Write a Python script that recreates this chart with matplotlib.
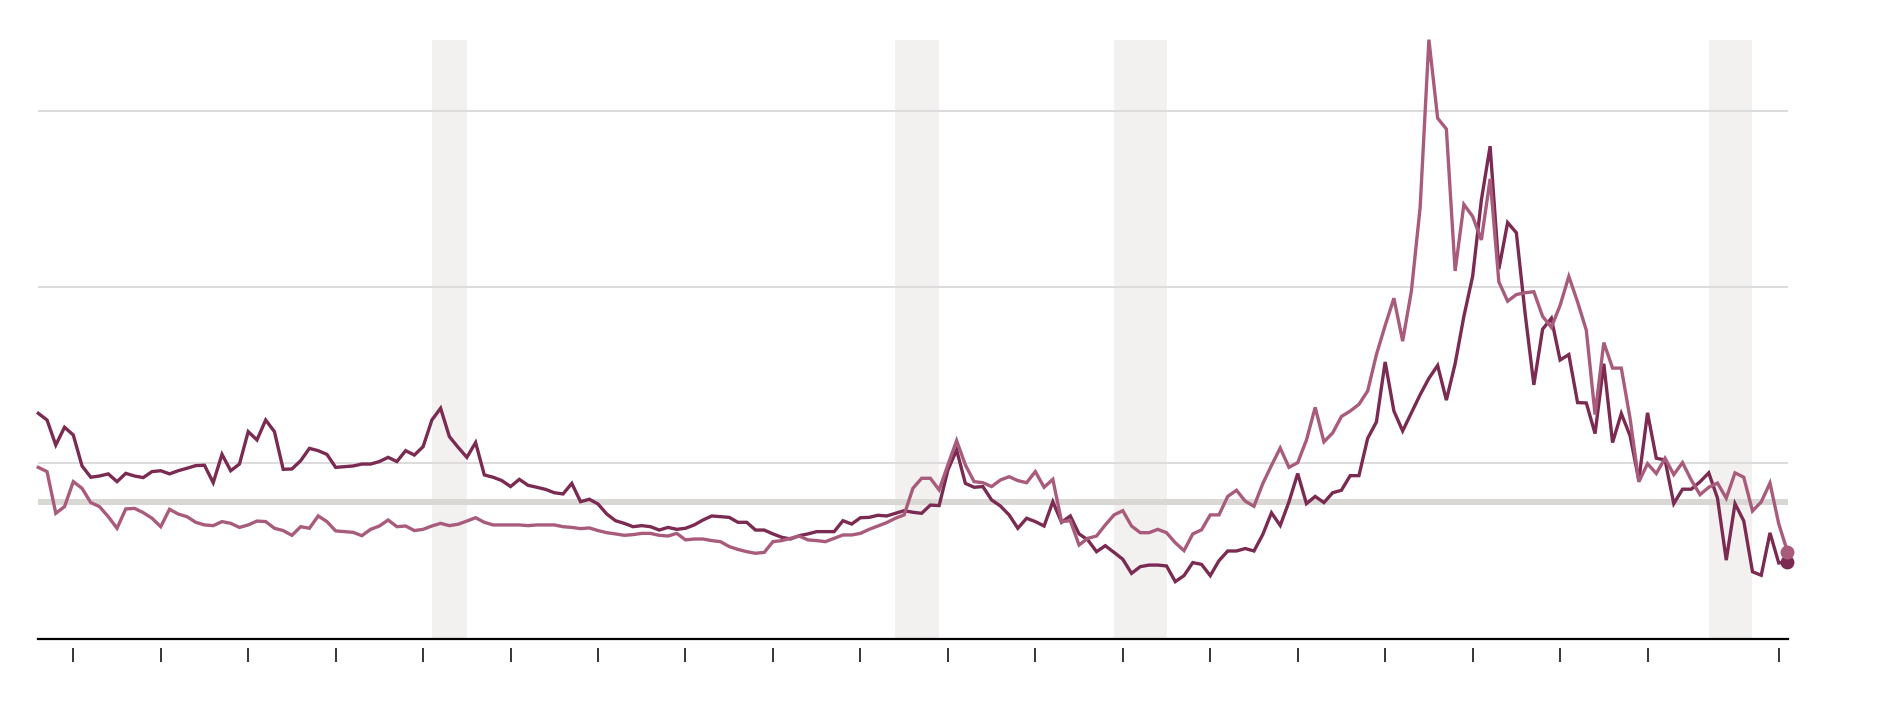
import numpy as np
import matplotlib
matplotlib.use("Agg")
import matplotlib.pyplot as plt

years = list(range(1816, 2017))

dark_series = [
    1.282, 1.244, 1.102, 1.203, 1.159, 0.983, 0.919, 0.926, 0.938, 0.894,
    0.941, 0.926, 0.917, 0.951, 0.956, 0.938, 0.956, 0.970, 0.985, 0.987,
    0.888, 1.049, 0.956, 0.994, 1.178, 1.131, 1.244, 1.178, 0.964, 0.966,
    1.013, 1.083, 1.070, 1.049, 0.975, 0.979, 0.983, 0.994, 0.994, 1.008,
    1.032, 1.008, 1.070, 1.045, 1.093, 1.244, 1.311, 1.150, 1.089, 1.032,
    1.116, 0.932, 0.919, 0.900, 0.866, 0.907, 0.873, 0.862, 0.850, 0.831,
    0.824, 0.884, 0.780, 0.794, 0.767, 0.710, 0.672, 0.657, 0.638, 0.644,
    0.638, 0.619, 0.634, 0.623, 0.629, 0.648, 0.676, 0.699, 0.695, 0.691,
    0.663, 0.663, 0.619, 0.619, 0.597, 0.578, 0.568, 0.587, 0.597, 0.610,
    0.610, 0.610, 0.672, 0.653, 0.689, 0.691, 0.703, 0.699, 0.714, 0.729,
    0.720, 0.714, 0.761, 0.758, 0.960, 1.074, 0.884, 0.862, 0.866, 0.790,
    0.756, 0.705, 0.629, 0.686, 0.667, 0.642, 0.780, 0.663, 0.699, 0.597,
    0.563, 0.496, 0.530, 0.492, 0.453, 0.373, 0.411, 0.420, 0.420, 0.415,
    0.326, 0.360, 0.434, 0.424, 0.360, 0.445, 0.500, 0.500, 0.514, 0.500,
    0.593, 0.717, 0.645, 0.779, 0.940, 0.769, 0.810, 0.775, 0.831, 0.845,
    0.928, 0.928, 1.140, 1.233, 1.574, 1.295, 1.182, 1.285, 1.388, 1.481,
    1.554, 1.357, 1.564, 1.833, 2.060, 2.494, 2.800, 2.101, 2.366, 2.308,
    1.850, 1.444, 1.760, 1.822, 1.585, 1.616, 1.343, 1.341, 1.167, 1.564,
    1.116, 1.281, 1.155, 0.903, 1.285, 1.027, 1.017, 0.769, 0.851, 0.851,
    0.893, 0.944, 0.800, 0.448, 0.769, 0.671, 0.382, 0.362, 0.603, 0.432,
    0.440,
]

light_series = [
    0.975, 0.951, 0.714, 0.752, 0.894, 0.856, 0.775, 0.752, 0.695, 0.629,
    0.739, 0.742, 0.718, 0.686, 0.638, 0.737, 0.710, 0.695, 0.663, 0.648,
    0.644, 0.667, 0.657, 0.634, 0.648, 0.670, 0.667, 0.629, 0.616, 0.589,
    0.638, 0.629, 0.699, 0.667, 0.614, 0.610, 0.606, 0.587, 0.623, 0.642,
    0.676, 0.638, 0.642, 0.616, 0.623, 0.642, 0.657, 0.644, 0.652, 0.670,
    0.689, 0.663, 0.648, 0.648, 0.648, 0.648, 0.644, 0.648, 0.648, 0.648,
    0.638, 0.634, 0.627, 0.631, 0.616, 0.604, 0.597, 0.589, 0.593, 0.600,
    0.600, 0.589, 0.585, 0.600, 0.563, 0.568, 0.568, 0.559, 0.553, 0.525,
    0.509, 0.496, 0.487, 0.492, 0.553, 0.559, 0.572, 0.585, 0.563, 0.559,
    0.553, 0.572, 0.591, 0.591, 0.600, 0.623, 0.642, 0.661, 0.686, 0.705,
    0.856, 0.913, 0.913, 0.847, 0.989, 1.127, 0.989, 0.894, 0.888, 0.866,
    0.903, 0.922, 0.900, 0.888, 0.951, 0.862, 0.907, 0.667, 0.672, 0.534,
    0.572, 0.585, 0.648, 0.705, 0.729, 0.642, 0.604, 0.604, 0.623, 0.604,
    0.547, 0.502, 0.597, 0.620, 0.705, 0.705, 0.810, 0.845, 0.783, 0.754,
    0.882, 0.986, 1.085, 0.975, 1.002, 1.130, 1.316, 1.120, 1.171, 1.264,
    1.295, 1.333, 1.409, 1.616, 1.781, 1.936, 1.692, 1.977, 2.452, 3.405,
    2.959, 2.897, 2.091, 2.469, 2.401, 2.267, 2.614, 2.029, 1.919, 1.957,
    1.967, 1.973, 1.833, 1.771, 1.895, 2.060, 1.915, 1.754, 1.275, 1.684,
    1.539, 1.539, 1.254, 0.893, 0.996, 0.940, 1.027, 0.934, 1.002, 0.903,
    0.820, 0.862, 0.886, 0.800, 0.944, 0.919, 0.727, 0.779, 0.886, 0.655,
    0.496,
]

shaded_periods = [(1861, 1865), (1914, 1919), (1939, 1945), (2007, 2012)]
gridline_values = [1, 2, 3]
reference_value = 0.78
tick_years = list(range(1820, 2001, 10)) + [2015]

DARK = "#7b2a52"
LIGHT = "#a85b7b"

fig = plt.figure(figsize=(18.9, 7.2), dpi=100)
ax = fig.add_axes([38.3 / 1890, 1 - 639 / 720, (1788 - 38.3) / 1890, (639 - 40) / 720])
ax.set_xlim(1816, 2016.06)
ax.set_ylim(0, 3.403)

for a, b in shaded_periods:
    ax.axvspan(a, b, color="#f2f1f0", lw=0, zorder=0)
for g in gridline_values:
    ax.axhline(g, color="#dcdcdc", lw=1.4, zorder=1)
ax.axhline(reference_value, color="#d9d8d5", lw=4.3, zorder=1)
ax.axhline(0, color="black", lw=1.6, zorder=3, clip_on=False)

ax.plot(years, dark_series, color=DARK, lw=2.4, zorder=4, clip_on=False,
        solid_joinstyle="miter")
ax.plot(years, light_series, color=LIGHT, lw=2.4, zorder=4.5, clip_on=False,
        solid_joinstyle="miter")
ax.plot(years[-1], dark_series[-1], "o", color=DARK, ms=10, mew=0, zorder=5, clip_on=False)
ax.plot(years[-1], light_series[-1], "o", color=LIGHT, ms=10, mew=0, zorder=6, clip_on=False)

for s in ["top", "right", "left"]:
    ax.spines[s].set_visible(False)
ax.spines["bottom"].set_position(("outward", 6.5))
ax.spines["bottom"].set_visible(False)
ax.set_yticks([])
ax.set_xticks(tick_years)
ax.tick_params(axis="x", direction="out", length=10, width=1.1, color="black",
               labelbottom=False)

fig.savefig("out.png", dpi=100, facecolor="white")
